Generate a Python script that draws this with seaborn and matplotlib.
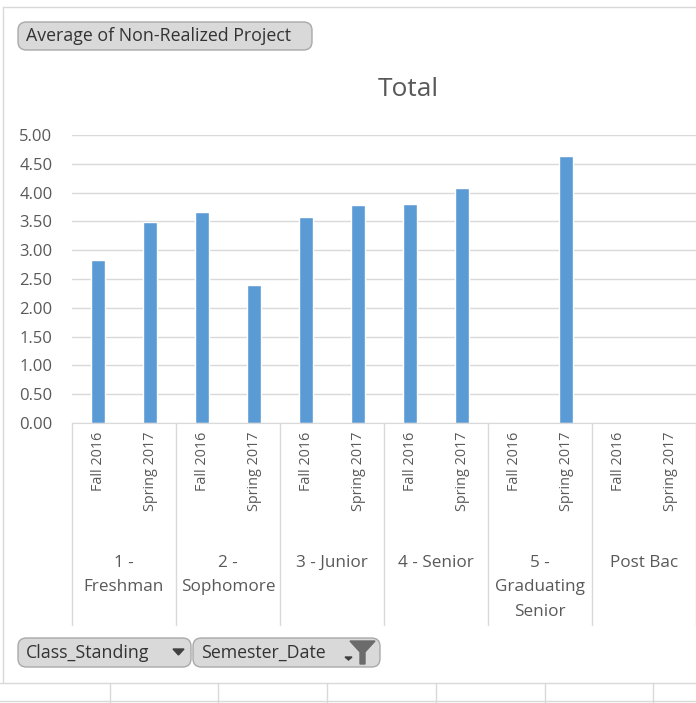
import numpy as np
import pandas as pd
import matplotlib
matplotlib.use("Agg")
import matplotlib.pyplot as plt
import seaborn as sns
from matplotlib.patches import FancyBboxPatch, Polygon
from matplotlib.lines import Line2D
import matplotlib.transforms as mtransforms

# data
class_standing = ["1 -\nFreshman", "2 -\nSophomore", "3 - Junior", "4 - Senior",
                  "5 -\nGraduating\nSenior", "Post Bac"]
semesters = ["Fall 2016", "Spring 2017"]
fall_2016 = [2.83, 3.66, 3.57, 3.81, np.nan, np.nan]
spring_2017 = [3.49, 2.39, 3.78, 4.08, 4.64, np.nan]

rows = []
for i, cs in enumerate(class_standing):
    rows.append({"slot": f"{i}-{semesters[0]}", "Semester": semesters[0], "value": fall_2016[i]})
    rows.append({"slot": f"{i}-{semesters[1]}", "Semester": semesters[1], "value": spring_2017[i]})
df = pd.DataFrame(rows)
order = list(df["slot"])

sns.set_style("white")
plt.rcParams['font.family'] = ['Open Sans', 'DejaVu Sans']
TXT = "#595959"
GRID = "#d9d9d9"

fig = plt.figure(figsize=(6.96, 7.03), dpi=100)
ax = fig.add_axes([72/696, (703-423)/703, 624/696, 288/703])

sns.barplot(data=df.dropna(), x="slot", y="value", order=order, color="#5B9BD5",
            width=0.28, saturation=1, ax=ax, errorbar=None)

ax.set_ylim(0, 5)
ax.set_xlim(-0.5, len(order) - 0.5)
ax.set_yticks(np.arange(0, 5.01, 0.5))
ax.set_yticklabels([f"{v:.2f}" for v in np.arange(0, 5.01, 0.5)], color=TXT, fontsize=12)
ax.yaxis.grid(True, color=GRID, lw=1)
ax.set_axisbelow(True)
ax.set_xticks(range(len(order)))
ax.set_xticklabels([s.split("-", 1)[1] for s in order], rotation=90, color=TXT,
                   fontsize=10.4, va="top")
ax.tick_params(axis="x", length=0, pad=6)
ax.tick_params(axis="y", length=0, pad=14)
ax.set_xlabel("")
ax.set_ylabel("")
for s in ["left", "right", "top"]:
    ax.spines[s].set_visible(False)
ax.spines["bottom"].set_color(GRID)

# group separators and group labels
trans = mtransforms.blended_transform_factory(ax.transData, ax.transAxes)
for k in range(len(class_standing) + 1):
    xpos = 2 * k - 0.5
    ax.add_line(Line2D([xpos, xpos], [0, -202/288], transform=trans, color=GRID,
                       lw=1, clip_on=False))
for k, cs in enumerate(class_standing):
    ax.text(2 * k + 0.5, -132/288, cs, transform=trans, ha="center", va="top",
            color=TXT, fontsize=12.3, linespacing=1.7)

fig.text(408/696, 1 - 90/703, "Total", ha="center", va="center", color=TXT, fontsize=19)

# pivot field buttons
def button(x0, y0, x1, y1, label):
    p = FancyBboxPatch((x0/696, 1 - y1/703), (x1-x0)/696, (y1-y0)/703,
                       boxstyle="round,pad=0,rounding_size=0.012", transform=fig.transFigure,
                       facecolor="#d9d9d9", edgecolor="#a9a9a9", lw=1)
    fig.add_artist(p)
    fig.text((x0+8)/696, 1 - ((y0+y1)/2)/703, label, ha="left", va="center",
             color="#333333", fontsize=12.8)

button(18, 22, 312, 50, "Average of Non-Realized Project")
button(18, 638, 191, 667, "Class_Standing")
button(193, 638, 380, 667, "Semester_Date")

# dropdown arrows and filter icon
def fig_poly(pts, color):
    fig.add_artist(Polygon([(x/696, 1 - y/703) for x, y in pts], closed=True,
                           transform=fig.transFigure, color=color))

fig_poly([(173, 649), (184, 649), (178.5, 655)], "#404040")
fig_poly([(345, 657), (352, 657), (348.5, 660)], "#404040")
fig_poly([(350, 641), (375, 641), (365, 652), (365, 664), (360, 664), (360, 652)], "#6b6b6b")

# worksheet cell lines around the chart
fig.add_artist(Line2D([3/696, 1], [1 - 7/703] * 2, transform=fig.transFigure, color=GRID, lw=1))
fig.add_artist(Line2D([3/696, 3/696], [1 - 7/703, 1 - 683/703], transform=fig.transFigure, color=GRID, lw=1))
for y in [683, 701]:
    fig.add_artist(Line2D([0, 1], [1 - y/703] * 2, transform=fig.transFigure, color=GRID, lw=1))
for x in [110, 218, 327, 436, 545, 653]:
    fig.add_artist(Line2D([x/696] * 2, [1 - 683/703, 0], transform=fig.transFigure, color=GRID, lw=1))

fig.savefig("out.png", dpi=100)
